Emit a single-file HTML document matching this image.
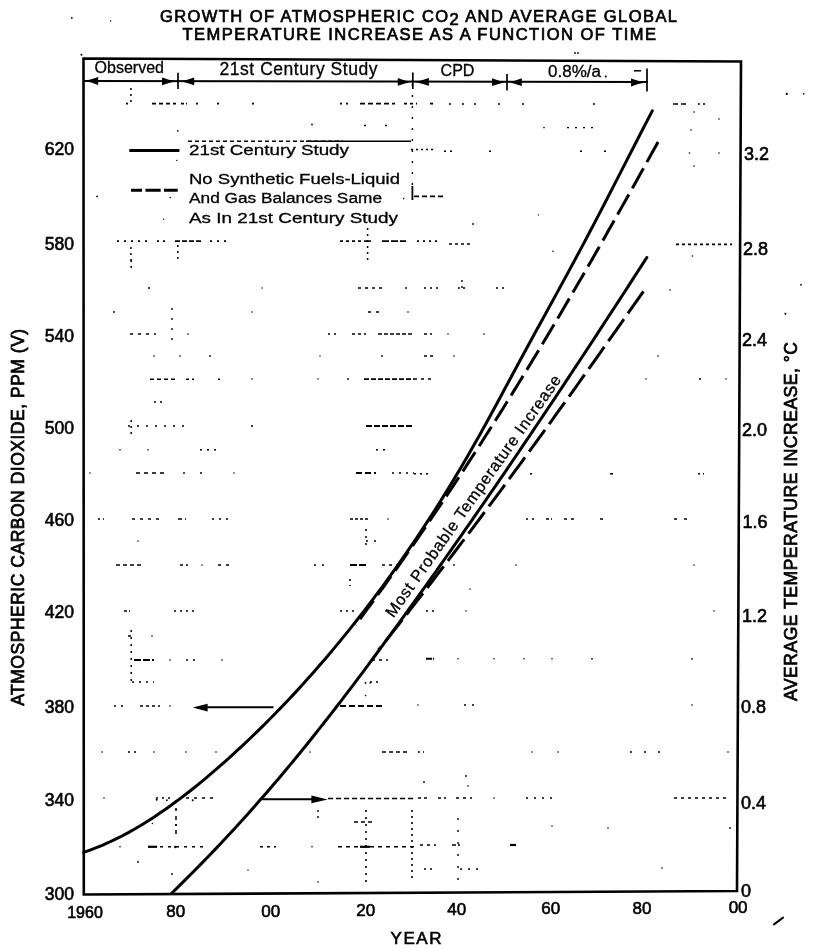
<!DOCTYPE html>
<html><head><meta charset="utf-8"><style>
html,body{margin:0;padding:0;background:#fff;width:825px;height:949px;overflow:hidden}
svg{display:block;filter:grayscale(1)}
text{fill:#000;stroke:#000;stroke-width:0.6px}
text.hv{stroke-width:0.7px}
text.lt{stroke-width:0.3px}
</style></head><body>
<svg width="825" height="949" viewBox="0 0 825 949">
<path d="M126.0,103.6 L131.0,103.6 M196.0,103.6 L200.0,103.6 M217.0,103.6 L219.0,103.6 M252.0,103.6 L254.0,103.6 M449.0,104.0 L451.0,104.0 M462.0,104.0 L464.0,104.0 M474.0,104.0 L476.0,104.0 M498.0,104.0 L500.0,104.0 M522.0,104.0 L524.0,104.0 M593.0,104.0 L595.0,104.0 M698.0,104.0 L706.0,104.0" stroke="#000" stroke-width="1.6" stroke-dasharray="2 3" fill="none"/>
<path d="M152.0,103.6 L176.0,103.6 M150.0,379.2 L176.0,379.2 M178.0,519.0 L186.0,519.0 M116.0,565.0 L144.0,565.0 M382.0,752.0 L410.0,752.0 M354.0,822.0 L372.0,822.0" stroke="#000" stroke-width="1.6" stroke-dasharray="4 3" fill="none"/>
<path d="M181.0,103.6 L187.0,103.6 M610.0,473.8 L614.0,473.8 M350.0,519.0 L368.0,519.0" stroke="#000" stroke-width="1.6" stroke-dasharray="3 2" fill="none"/>
<path d="M340.0,103.6 L349.0,103.6 M157.0,241.1 L167.0,241.1 M417.0,241.1 L439.0,241.1 M156.0,798.0 L170.0,798.0 M350.0,579.0 L350.0,586.0 M412.0,810.0 L412.0,882.0" stroke="#000" stroke-width="1.6" stroke-dasharray="2 4" fill="none"/>
<path d="M360.0,103.6 L395.0,103.6 M673.0,104.0 L688.0,104.0 M414.0,196.4 L444.0,196.4" stroke="#000" stroke-width="1.6" stroke-dasharray="5 3" fill="none"/>
<path d="M404.0,103.6 L417.0,103.6 M430.0,103.6 L436.0,103.6 M340.0,241.1 L364.0,241.1 M449.0,244.0 L473.0,244.0 M676.0,244.4 L732.0,244.4 M140.0,706.0 L160.0,706.0" stroke="#000" stroke-width="1.6" stroke-dasharray="3 3" fill="none"/>
<path d="M364.0,125.5 L369.0,125.5 M385.0,125.5 L389.0,125.5 M411.0,149.5 L434.0,149.5 M489.0,151.3 L491.0,151.3 M580.0,151.3 L582.0,151.3 M604.0,151.3 L606.0,151.3" stroke="#000" stroke-width="1.4" stroke-dasharray="2 3" fill="none"/>
<path d="M567.0,127.6 L597.0,127.6 M464.0,705.0 L476.0,705.0" stroke="#000" stroke-width="1.4" stroke-dasharray="2 6" fill="none"/>
<path d="M188.0,141.2 L343.0,141.2" stroke="#000" stroke-width="1.5" stroke-dasharray="4 3" fill="none"/>
<path d="M444.0,151.3 L452.0,151.3 M154.0,402.0 L164.0,402.0 M462.0,280.0 L462.0,292.0 M318.0,810.0 L318.0,818.0" stroke="#000" stroke-width="1.4" stroke-dasharray="2 4" fill="none"/>
<path d="M117.0,241.1 L148.0,241.1 M210.0,241.1 L226.0,241.1 M366.0,810.0 L366.0,882.0" stroke="#000" stroke-width="1.6" stroke-dasharray="2 5" fill="none"/>
<path d="M175.0,241.1 L202.0,241.1" stroke="#000" stroke-width="1.8" stroke-dasharray="5 2" fill="none"/>
<path d="M364.0,241.1 L371.0,241.1" stroke="#000" stroke-width="1.6" stroke-dasharray="7 1" fill="none"/>
<path d="M382.0,241.1 L406.0,241.1 M350.0,565.0 L366.0,565.0 M134.0,660.0 L154.0,660.0" stroke="#000" stroke-width="1.8" stroke-dasharray="7 2" fill="none"/>
<path d="M148.0,288.0 L154.0,288.0 M424.0,288.0 L440.0,288.0 M496.0,288.0 L504.0,288.0 M328.0,334.0 L336.0,334.0 M414.0,473.8 L430.0,473.8 M526.0,519.0 L534.0,519.0 M174.0,611.0 L194.0,611.0 M340.0,611.0 L356.0,611.0 M426.0,611.0 L438.0,611.0 M370.0,682.0 L382.0,682.0 M128.0,752.0 L138.0,752.0 M424.0,869.0 L436.0,869.0 M130.9,88.0 L130.9,106.0 M130.9,247.0 L130.9,264.0 M177.8,245.0 L177.8,261.0 M367.6,228.0 L367.6,264.0 M131.2,260.0 L131.2,268.0 M131.2,420.0 L131.2,436.0 M176.0,818.0 L176.0,834.0" stroke="#000" stroke-width="1.5" stroke-dasharray="2 4" fill="none"/>
<path d="M358.0,288.0 L382.0,288.0 M564.0,519.0 L578.0,519.0 M372.0,660.0 L388.0,660.0 M456.0,798.0 L472.0,798.0 M260.0,846.8 L276.0,846.8" stroke="#000" stroke-width="1.6" stroke-dasharray="3 4" fill="none"/>
<path d="M458.0,288.0 L466.0,288.0 M698.0,473.8 L704.0,473.8 M98.0,519.0 L104.0,519.0 M418.0,752.0 L424.0,752.0" stroke="#000" stroke-width="1.5" stroke-dasharray="2 3" fill="none"/>
<path d="M368.0,312.0 L384.0,312.0 M218.0,565.0 L234.0,565.0" stroke="#000" stroke-width="1.5" stroke-dasharray="3 5" fill="none"/>
<path d="M130.0,334.0 L156.0,334.0 M132.0,519.0 L164.0,519.0 M186.0,798.0 L214.0,798.0 M160.0,846.8 L204.0,846.8" stroke="#000" stroke-width="1.6" stroke-dasharray="3 5" fill="none"/>
<path d="M352.0,334.0 L366.0,334.0 M424.0,334.0 L432.0,334.0 M424.0,356.0 L434.0,356.0 M186.0,379.2 L194.0,379.2 M180.0,565.0 L188.0,565.0 M128.0,636.0 L134.0,636.0 M418.0,798.0 L430.0,798.0 M438.0,798.0 L446.0,798.0" stroke="#000" stroke-width="1.5" stroke-dasharray="3 3" fill="none"/>
<path d="M378.0,334.0 L414.0,334.0 M452.0,845.0 L460.0,845.0" stroke="#000" stroke-width="1.7" stroke-dasharray="4 2" fill="none"/>
<path d="M218.0,379.2 L222.0,379.2 M200.0,473.0 L204.0,473.0 M530.0,473.8 L534.0,473.8" stroke="#000" stroke-width="1.5" stroke-dasharray="2 2" fill="none"/>
<path d="M364.0,379.2 L414.0,379.2" stroke="#000" stroke-width="1.7" stroke-dasharray="5 2" fill="none"/>
<path d="M414.0,379.0 L434.0,379.0 M382.0,565.0 L400.0,565.0 M674.0,798.0 L730.0,798.0 M420.0,845.0 L436.0,845.0" stroke="#000" stroke-width="1.5" stroke-dasharray="3 4" fill="none"/>
<path d="M128.0,426.0 L184.0,426.0" stroke="#000" stroke-width="1.5" stroke-dasharray="2 7" fill="none"/>
<path d="M366.0,426.0 L414.0,426.0" stroke="#000" stroke-width="1.8" stroke-dasharray="6 2" fill="none"/>
<path d="M200.0,449.8 L216.0,449.8 M376.0,449.8 L388.0,449.8 M392.0,473.0 L414.0,473.0 M212.0,519.0 L228.0,519.0 M186.0,660.0 L200.0,660.0 M132.0,682.0 L154.0,682.0 M114.0,706.0 L124.0,706.0 M366.0,529.0 L366.0,549.0 M131.2,630.0 L131.2,686.0" stroke="#000" stroke-width="1.5" stroke-dasharray="2 5" fill="none"/>
<path d="M136.0,473.0 L168.0,473.0 M338.0,846.8 L414.0,846.8" stroke="#000" stroke-width="1.6" stroke-dasharray="4 4" fill="none"/>
<path d="M356.0,473.0 L376.0,473.0 M340.0,706.0 L384.0,706.0" stroke="#000" stroke-width="1.8" stroke-dasharray="6 3" fill="none"/>
<path d="M546.0,519.0 L552.0,519.0 M600.0,519.0 L604.0,519.0 M124.0,611.0 L130.0,611.0" stroke="#000" stroke-width="1.5" stroke-dasharray="3 2" fill="none"/>
<path d="M674.0,519.0 L694.0,519.0" stroke="#000" stroke-width="1.5" stroke-dasharray="3 7" fill="none"/>
<path d="M366.0,541.0 L380.0,541.0 M314.0,565.0 L324.0,565.0 M526.0,798.0 L558.0,798.0 M460.0,869.0 L480.0,869.0 M176.0,800.0 L176.0,834.0" stroke="#000" stroke-width="1.5" stroke-dasharray="2 6" fill="none"/>
<path d="M426.0,658.8 L434.0,658.8" stroke="#000" stroke-width="2.0" stroke-dasharray="6 1" fill="none"/>
<path d="M630.0,752.0 L672.0,752.0" stroke="#000" stroke-width="1.4" stroke-dasharray="2 12" fill="none"/>
<path d="M328.0,798.5 L414.0,798.5" stroke="#000" stroke-width="1.7" stroke-dasharray="5 3" fill="none"/>
<path d="M148.0,846.8 L157.0,846.8" stroke="#000" stroke-width="2.2" stroke-dasharray="9 1" fill="none"/>
<path d="M360.0,846.8 L370.0,846.8" stroke="#000" stroke-width="2.2" stroke-dasharray="10 1" fill="none"/>
<path d="M510.0,845.0 L516.0,845.0" stroke="#000" stroke-width="2.2" stroke-dasharray="6 1" fill="none"/>
<path d="M412.4,84.0 L412.4,186.0" stroke="#000" stroke-width="1.4" stroke-dasharray="2 9" fill="none"/>
<path d="M412.4,186.0 L412.4,200.0" stroke="#000" stroke-width="1.8" stroke-dasharray="14 1" fill="none"/>
<path d="M172.0,308.0 L172.0,340.0" stroke="#000" stroke-width="1.4" stroke-dasharray="2 8" fill="none"/>
<path d="M458.0,818.0 L458.0,884.0" stroke="#000" stroke-width="1.4" stroke-dasharray="2 10" fill="none"/>
<g fill="#000"><circle cx="71.8" cy="17.9" r="0.9"/><circle cx="110.6" cy="21.0" r="0.8"/><circle cx="81.5" cy="54.7" r="1.0"/><circle cx="575.0" cy="53.0" r="0.9"/><circle cx="578.0" cy="53.0" r="0.9"/><circle cx="177.8" cy="130.9" r="0.8"/><circle cx="176.7" cy="160.4" r="0.7"/><circle cx="97.1" cy="196.4" r="0.9"/><circle cx="170.2" cy="197.5" r="0.8"/><circle cx="163.6" cy="219.3" r="0.7"/><circle cx="312.0" cy="124.4" r="0.9"/><circle cx="403.6" cy="198.6" r="0.8"/><circle cx="473.0" cy="224.0" r="0.9"/><circle cx="538.5" cy="214.9" r="0.7"/><circle cx="553.0" cy="251.3" r="0.8"/><circle cx="544.0" cy="127.6" r="0.8"/><circle cx="786.8" cy="93.9" r="1.1"/><circle cx="803.7" cy="93.9" r="0.8"/><circle cx="801.0" cy="284.8" r="0.9"/><circle cx="785.4" cy="313.7" r="1.0"/><circle cx="694.0" cy="112.0" r="0.8"/><circle cx="691.0" cy="130.0" r="0.8"/><circle cx="719.0" cy="119.0" r="0.8"/><circle cx="689.5" cy="153.0" r="0.8"/><circle cx="719.0" cy="153.0" r="0.8"/><circle cx="694.0" cy="166.0" r="0.8"/><circle cx="692.4" cy="256.0" r="0.8"/><circle cx="670.0" cy="290.0" r="0.8"/><circle cx="114.0" cy="312.0" r="0.9"/><circle cx="252.0" cy="312.0" r="0.8"/><circle cx="262.0" cy="288.0" r="0.7"/><circle cx="406.0" cy="288.0" r="0.9"/><circle cx="408.0" cy="312.0" r="0.8"/><circle cx="188.0" cy="334.0" r="0.8"/><circle cx="448.0" cy="334.0" r="0.8"/><circle cx="484.0" cy="334.0" r="0.8"/><circle cx="154.0" cy="356.0" r="0.8"/><circle cx="180.0" cy="356.0" r="0.8"/><circle cx="210.0" cy="356.0" r="0.9"/><circle cx="320.0" cy="356.0" r="0.7"/><circle cx="382.0" cy="356.0" r="0.9"/><circle cx="454.0" cy="356.0" r="0.8"/><circle cx="658.0" cy="356.0" r="0.8"/><circle cx="252.0" cy="379.0" r="0.8"/><circle cx="318.0" cy="379.0" r="0.8"/><circle cx="348.0" cy="379.0" r="0.9"/><circle cx="646.0" cy="379.0" r="0.8"/><circle cx="700.0" cy="379.0" r="1.0"/><circle cx="726.0" cy="379.0" r="0.8"/><circle cx="252.0" cy="426.0" r="1.0"/><circle cx="120.0" cy="449.8" r="0.8"/><circle cx="148.0" cy="449.8" r="0.8"/><circle cx="90.0" cy="473.0" r="0.8"/><circle cx="184.0" cy="473.0" r="0.9"/><circle cx="234.0" cy="473.0" r="0.8"/><circle cx="388.0" cy="519.0" r="0.8"/><circle cx="138.0" cy="541.0" r="0.8"/><circle cx="202.0" cy="565.0" r="0.8"/><circle cx="454.0" cy="565.0" r="0.9"/><circle cx="516.0" cy="565.0" r="0.8"/><circle cx="694.0" cy="565.0" r="0.8"/><circle cx="466.0" cy="611.0" r="0.8"/><circle cx="714.0" cy="611.0" r="0.8"/><circle cx="470.0" cy="589.0" r="0.8"/><circle cx="152.0" cy="636.0" r="0.8"/><circle cx="170.0" cy="660.0" r="0.8"/><circle cx="222.0" cy="660.0" r="0.8"/><circle cx="458.0" cy="658.8" r="0.8"/><circle cx="494.0" cy="658.8" r="0.8"/><circle cx="524.0" cy="658.8" r="0.8"/><circle cx="552.0" cy="658.8" r="0.8"/><circle cx="592.0" cy="658.8" r="0.9"/><circle cx="692.0" cy="658.8" r="0.9"/><circle cx="170.0" cy="706.0" r="0.8"/><circle cx="418.0" cy="705.0" r="0.8"/><circle cx="692.0" cy="705.0" r="0.8"/><circle cx="365.5" cy="682.9" r="0.9"/><circle cx="370.2" cy="682.9" r="0.8"/><circle cx="365.5" cy="695.6" r="0.8"/><circle cx="102.0" cy="752.0" r="0.8"/><circle cx="154.0" cy="752.0" r="0.8"/><circle cx="186.0" cy="752.0" r="0.8"/><circle cx="216.0" cy="752.0" r="0.8"/><circle cx="310.0" cy="752.0" r="0.8"/><circle cx="532.0" cy="752.0" r="0.8"/><circle cx="558.0" cy="752.0" r="0.8"/><circle cx="728.0" cy="752.0" r="0.8"/><circle cx="104.0" cy="798.0" r="0.8"/><circle cx="494.0" cy="798.0" r="0.8"/><circle cx="424.0" cy="782.0" r="0.9"/><circle cx="466.0" cy="776.0" r="0.9"/><circle cx="468.0" cy="786.0" r="0.8"/><circle cx="120.0" cy="846.8" r="0.8"/><circle cx="312.0" cy="846.8" r="0.8"/><circle cx="138.0" cy="862.0" r="0.9"/><circle cx="172.0" cy="874.0" r="0.9"/><circle cx="248.0" cy="870.0" r="0.7"/><circle cx="318.0" cy="882.0" r="0.8"/><circle cx="552.0" cy="826.0" r="0.8"/><circle cx="608.0" cy="828.0" r="0.8"/><circle cx="730.0" cy="828.0" r="0.9"/><circle cx="662.0" cy="868.0" r="0.8"/><circle cx="156.7" cy="799.8" r="1.0"/><circle cx="166.9" cy="800.2" r="0.9"/><circle cx="192.7" cy="800.2" r="1.0"/><circle cx="176.0" cy="810.0" r="0.9"/><circle cx="152.4" cy="823.5" r="0.8"/><circle cx="175.3" cy="847.0" r="1.3"/><circle cx="15.0" cy="525.0" r="0.9"/><circle cx="18.0" cy="525.0" r="0.9"/></g>
<path d="M774,924.4 L783,917.6" stroke="#000" stroke-width="2" stroke-linecap="round"/>
<path d="M83.5,58.5 L741,61.5 L737,891 L83.8,894.5 Z" fill="none" stroke="#000" stroke-width="2.6" stroke-linejoin="miter"/>
<path d="M84,81 L648,82" stroke="#000" stroke-width="1.9" fill="none"/>
<path d="M178.0,72.8 L178.0,89.0" stroke="#000" stroke-width="1.7"/>
<path d="M412.8,72.5 L412.8,89.0" stroke="#000" stroke-width="1.7"/>
<path d="M507.0,74.0 L507.0,90.4" stroke="#000" stroke-width="1.7"/>
<path d="M647.0,68.5 L647.0,91.5" stroke="#000" stroke-width="1.7"/>
<path d="M84.5,81.0 Q91.3,79.7 98.2,77.1 L98.2,84.9 Q91.3,82.3 84.5,81.0 Z" fill="#000"/>
<path d="M176.0,81.3 Q169.0,80.0 162.0,77.4 L162.0,85.2 Q169.0,82.6 176.0,81.3 Z" fill="#000"/>
<path d="M180.3,81.3 Q187.2,80.0 194.2,77.4 L194.2,85.2 Q187.2,82.6 180.3,81.3 Z" fill="#000"/>
<path d="M410.5,81.9 Q404.1,80.6 397.8,78.0 L397.8,85.8 Q404.1,83.2 410.5,81.9 Z" fill="#000"/>
<path d="M415.0,81.9 Q421.9,80.6 428.9,78.0 L428.9,85.8 Q421.9,83.2 415.0,81.9 Z" fill="#000"/>
<path d="M505.0,82.2 Q498.5,80.9 492.0,78.3 L492.0,86.1 Q498.5,83.5 505.0,82.2 Z" fill="#000"/>
<path d="M509.0,82.2 Q515.4,80.9 521.8,78.3 L521.8,86.1 Q515.4,83.5 509.0,82.2 Z" fill="#000"/>
<path d="M645.5,82.5 Q638.2,81.2 631.0,78.6 L631.0,86.4 Q638.2,83.8 645.5,82.5 Z" fill="#000"/>
<path d="M634,70.8 L641,70.8" stroke="#000" stroke-width="1.5"/>
<path d="M83.60,852.33 L89.99,850.12 L96.38,847.70 L102.77,845.07 L109.16,842.24 L115.55,839.21 L121.94,835.98 L128.33,832.57 L134.72,828.97 L141.11,825.20 L147.50,821.25 L153.89,817.14 L160.28,812.86 L166.67,808.42 L173.06,803.83 L179.45,799.10 L185.84,794.22 L192.23,789.21 L198.62,784.06 L205.01,778.79 L211.40,773.40 L217.79,767.89 L224.18,762.27 L230.57,756.54 L236.96,750.71 L243.35,744.78 L249.74,738.74 L256.13,732.59 L262.52,726.34 L268.91,719.97 L275.30,713.49 L281.69,706.90 L288.08,700.19 L294.47,693.36 L300.86,686.42 L307.25,679.35 L313.64,672.16 L320.03,664.85 L326.42,657.41 L332.81,649.85 L339.20,642.15 L345.59,634.33 L351.98,626.37 L358.37,618.28 L364.76,610.05 L371.14,601.68 L377.53,593.18 L383.92,584.53 L390.31,575.74 L396.70,566.80 L403.09,557.70 L409.48,548.44 L415.87,539.02 L422.26,529.43 L428.65,519.67 L435.04,509.73 L441.43,499.61 L447.82,489.30 L454.21,478.81 L460.60,468.11 L466.99,457.22 L473.38,446.12 L479.77,434.80 L486.16,423.26 L492.55,411.55 L498.94,399.72 L505.33,387.83 L511.72,375.92 L518.11,364.05 L524.50,352.25 L530.89,340.52 L537.28,328.84 L543.67,317.18 L550.06,305.53 L556.45,293.86 L562.84,282.15 L569.23,270.38 L575.62,258.53 L582.01,246.59 L588.40,234.52 L594.79,222.34 L601.18,210.07 L607.57,197.73 L613.96,185.33 L620.35,172.89 L626.74,160.44 L633.13,147.99 L639.52,135.56 L645.91,123.17 L652.30,110.84" fill="none" stroke="#000" stroke-width="3" stroke-linecap="round"/>
<path d="M658.05,142.00 L655.05,147.43 L652.04,152.85 L649.03,158.28 L646.02,163.71 L643.00,169.13 L639.98,174.56 L636.95,179.99 L633.92,185.42 L630.89,190.84 L627.85,196.27 L624.80,201.70 L621.75,207.12 L618.69,212.55 L615.63,217.98 L612.56,223.40 L609.49,228.83 L606.41,234.26 L603.32,239.69 L600.22,245.11 L597.12,250.54 L594.01,255.97 L590.90,261.39 L587.77,266.82 L584.64,272.25 L581.50,277.67 L578.36,283.10 L575.20,288.53 L572.04,293.96 L568.86,299.38 L565.68,304.81 L562.49,310.24 L559.29,315.66 L556.08,321.09 L552.86,326.52 L549.63,331.94 L546.39,337.37 L543.15,342.80 L539.89,348.22 L536.62,353.65 L533.34,359.08 L530.04,364.51 L526.74,369.93 L523.43,375.36 L520.10,380.79 L516.77,386.21 L513.42,391.64 L510.06,397.07 L506.68,402.49 L503.30,407.92 L499.90,413.35 L496.49,418.78 L493.07,424.20 L489.63,429.63 L486.18,435.06 L482.72,440.48 L479.24,445.91 L475.75,451.34 L472.24,456.76 L468.72,462.19 L465.19,467.62 L461.64,473.04 L458.07,478.47 L454.50,483.90 L450.90,489.33 L447.29,494.75 L443.67,500.18 L440.03,505.61 L436.37,511.03 L432.70,516.46 L429.01,521.89 L425.30,527.31 L421.58,532.74 L417.84,538.17 L414.08,543.60 L410.31,549.02 L406.52,554.45 L402.71,559.88 L398.88,565.30 L395.04,570.73 L391.17,576.16 L387.29,581.58 L383.39,587.01 L379.47,592.44 L375.53,597.87 L371.58,603.29 L367.60,608.72 L363.60,614.15 L359.59,619.57 L355.55,625.00" fill="none" stroke="#000" stroke-width="3" stroke-dasharray="23 7"/>
<path d="M171.65,893.20 L178.98,886.06 L186.21,878.91 L193.35,871.77 L200.39,864.63 L207.33,857.49 L214.19,850.34 L220.96,843.20 L227.65,836.06 L234.25,828.92 L240.77,821.77 L247.21,814.63 L253.58,807.49 L259.87,800.34 L266.09,793.20 L272.24,786.06 L278.33,778.92 L284.35,771.77 L290.30,764.63 L296.20,757.49 L302.04,750.35 L307.82,743.20 L313.55,736.06 L319.23,728.92 L324.86,721.78 L330.44,714.63 L335.98,707.49 L341.48,700.35 L346.93,693.20 L352.35,686.06 L357.74,678.92 L363.09,671.78 L368.41,664.63 L373.71,657.49 L378.97,650.35 L384.22,643.21 L389.44,636.06 L394.64,628.92 L399.83,621.78 L405.00,614.63 L410.15,607.49 L415.29,600.35 L420.41,593.21 L425.52,586.06 L430.60,578.92 L435.68,571.78 L440.74,564.64 L445.78,557.49 L450.81,550.35 L455.82,543.21 L460.82,536.07 L465.81,528.92 L470.78,521.78 L475.74,514.64 L480.68,507.49 L485.61,500.35 L490.53,493.21 L495.43,486.07 L500.32,478.92 L505.20,471.78 L510.07,464.64 L514.93,457.50 L519.77,450.35 L524.60,443.21 L529.42,436.07 L534.23,428.92 L539.03,421.78 L543.81,414.64 L548.59,407.50 L553.36,400.35 L558.11,393.21 L562.86,386.07 L567.59,378.93 L572.32,371.78 L577.04,364.64 L581.75,357.50 L586.44,350.36 L591.14,343.21 L595.82,336.07 L600.49,328.93 L605.16,321.78 L609.82,314.64 L614.47,307.50 L619.11,300.36 L623.75,293.21 L628.37,286.07 L633.00,278.93 L637.61,271.79 L642.22,264.64 L646.82,257.50" fill="none" stroke="#000" stroke-width="3" stroke-linecap="round"/>
<path d="M643.46,291.30 L640.64,295.33 L637.81,299.36 L634.99,303.39 L632.16,307.42 L629.33,311.45 L626.49,315.48 L623.66,319.51 L620.82,323.54 L617.98,327.57 L615.14,331.60 L612.30,335.63 L609.45,339.66 L606.60,343.69 L603.75,347.72 L600.90,351.76 L598.04,355.79 L595.18,359.82 L592.32,363.85 L589.46,367.88 L586.59,371.91 L583.72,375.94 L580.85,379.97 L577.97,384.00 L575.09,388.03 L572.21,392.06 L569.32,396.09 L566.43,400.12 L563.54,404.15 L560.64,408.18 L557.74,412.21 L554.84,416.24 L551.93,420.27 L549.02,424.30 L546.11,428.33 L543.19,432.36 L540.27,436.39 L537.35,440.42 L534.42,444.45 L531.48,448.48 L528.55,452.51 L525.61,456.54 L522.66,460.57 L519.71,464.60 L516.76,468.63 L513.80,472.67 L510.84,476.70 L507.87,480.73 L504.90,484.76 L501.92,488.79 L498.94,492.82 L495.96,496.85 L492.97,500.88 L489.97,504.91 L486.97,508.94 L483.97,512.97 L480.96,517.00 L477.95,521.03 L474.93,525.06 L471.90,529.09 L468.87,533.12 L465.84,537.15 L462.80,541.18 L459.75,545.21 L456.70,549.24 L453.64,553.27 L450.58,557.30 L447.51,561.33 L444.44,565.36 L441.36,569.39 L438.28,573.42 L435.18,577.45 L432.09,581.48 L428.99,585.51 L425.88,589.54 L422.76,593.58 L419.64,597.61 L416.51,601.64 L413.38,605.67 L410.24,609.70 L407.10,613.73 L403.94,617.76 L400.78,621.79 L397.62,625.82 L394.45,629.85 L391.27,633.88 L388.08,637.91 L384.89,641.94 L381.69,645.97 L378.49,650.00" fill="none" stroke="#000" stroke-width="3" stroke-dasharray="27 7"/>
<path d="M206,707.3 L273.5,707.3" stroke="#000" stroke-width="2"/>
<path d="M192.7,707.5 L207.6,703.8 L207.6,711.4 Z" fill="#000"/>
<path d="M262.3,799.2 L312,799.2" stroke="#000" stroke-width="2"/>
<path d="M327.7,799.4 L311.4,795.6 L311.4,803.2 Z" fill="#000"/>
<path d="M129.3,150.4 L179.4,150.4" stroke="#000" stroke-width="3"/>
<path d="M131,190.2 L142,190.2 M145.5,190.2 L160.7,190.2 M164,190.2 L177.7,190.2" stroke="#000" stroke-width="3"/>
<path d="M306,141.3 L411,141.3" stroke="#000" stroke-width="1.5"/>
<text x="160.0" y="22.2" font-family="Liberation Sans, sans-serif" font-size="16.5" text-anchor="start" textLength="517.0" lengthAdjust="spacing" class="hv">GROWTH OF ATMOSPHERIC CO<tspan dy="2.5">2</tspan><tspan dy="-2.5"> AND AVERAGE GLOBAL</tspan></text>
<text x="182.5" y="40.0" font-family="Liberation Sans, sans-serif" font-size="16.5" text-anchor="start" textLength="473.5" lengthAdjust="spacing" class="hv">TEMPERATURE INCREASE AS A FUNCTION OF TIME</text>
<text x="94.5" y="73.0" font-family="Liberation Sans, sans-serif" font-size="17.0" text-anchor="start" textLength="69.5" lengthAdjust="spacingAndGlyphs" class="lt">Observed</text>
<text x="219.5" y="74.6" font-family="Liberation Sans, sans-serif" font-size="17.5" text-anchor="start" textLength="158.0" lengthAdjust="spacing" class="lt">21st Century Study</text>
<text x="440.5" y="76.3" font-family="Liberation Sans, sans-serif" font-size="16.5" text-anchor="start" textLength="34.0" lengthAdjust="spacingAndGlyphs" class="lt">CPD</text>
<text x="548.0" y="77.2" font-family="Liberation Sans, sans-serif" font-size="16.5" text-anchor="start" textLength="53.0" lengthAdjust="spacingAndGlyphs" class="lt">0.8%/a</text>
<circle cx="605.8" cy="76.5" r="1"/>
<text x="189.0" y="154.9" font-family="Liberation Sans, sans-serif" font-size="15.5" text-anchor="start" textLength="160.0" lengthAdjust="spacingAndGlyphs" class="lt">21st Century Study</text>
<text x="189.0" y="183.7" font-family="Liberation Sans, sans-serif" font-size="15.5" text-anchor="start" textLength="211.0" lengthAdjust="spacingAndGlyphs" class="lt">No Synthetic Fuels-Liquid</text>
<text x="189.0" y="203.4" font-family="Liberation Sans, sans-serif" font-size="15.5" text-anchor="start" textLength="193.0" lengthAdjust="spacingAndGlyphs" class="lt">And Gas Balances Same</text>
<text x="189.0" y="223.2" font-family="Liberation Sans, sans-serif" font-size="15.5" text-anchor="start" textLength="209.0" lengthAdjust="spacingAndGlyphs" class="lt">As In 21st Century Study</text>
<text x="74.0" y="155.3" font-family="Liberation Sans, sans-serif" font-size="17.6" text-anchor="end" >620</text>
<text x="74.0" y="250.0" font-family="Liberation Sans, sans-serif" font-size="17.6" text-anchor="end" >580</text>
<text x="74.0" y="341.8" font-family="Liberation Sans, sans-serif" font-size="17.6" text-anchor="end" >540</text>
<text x="74.0" y="433.8" font-family="Liberation Sans, sans-serif" font-size="17.6" text-anchor="end" >500</text>
<text x="74.0" y="525.8" font-family="Liberation Sans, sans-serif" font-size="17.6" text-anchor="end" >460</text>
<text x="74.0" y="617.9" font-family="Liberation Sans, sans-serif" font-size="17.6" text-anchor="end" >420</text>
<text x="74.0" y="712.7" font-family="Liberation Sans, sans-serif" font-size="17.6" text-anchor="end" >380</text>
<text x="74.0" y="806.0" font-family="Liberation Sans, sans-serif" font-size="17.6" text-anchor="end" >340</text>
<text x="74.0" y="899.9" font-family="Liberation Sans, sans-serif" font-size="17.6" text-anchor="end" >300</text>
<text x="744.0" y="160.3" font-family="Liberation Sans, sans-serif" font-size="18.0" text-anchor="start" >3.2</text>
<text x="743.0" y="255.3" font-family="Liberation Sans, sans-serif" font-size="18.0" text-anchor="start" >2.8</text>
<text x="742.0" y="346.3" font-family="Liberation Sans, sans-serif" font-size="18.0" text-anchor="start" >2.4</text>
<text x="742.0" y="436.1" font-family="Liberation Sans, sans-serif" font-size="18.0" text-anchor="start" >2.0</text>
<text x="742.5" y="528.3" font-family="Liberation Sans, sans-serif" font-size="18.0" text-anchor="start" >1.6</text>
<text x="742.0" y="621.8" font-family="Liberation Sans, sans-serif" font-size="18.0" text-anchor="start" >1.2</text>
<text x="741.0" y="712.7" font-family="Liberation Sans, sans-serif" font-size="18.0" text-anchor="start" >0.8</text>
<text x="741.0" y="809.3" font-family="Liberation Sans, sans-serif" font-size="18.0" text-anchor="start" >0.4</text>
<text x="741.0" y="896.8" font-family="Liberation Sans, sans-serif" font-size="18.0" text-anchor="start" >0</text>
<text x="85.0" y="917.5" font-family="Liberation Sans, sans-serif" font-size="16.0" text-anchor="middle" >1960</text>
<text x="175.8" y="917.0" font-family="Liberation Sans, sans-serif" font-size="17.0" text-anchor="middle" >80</text>
<text x="270.7" y="916.5" font-family="Liberation Sans, sans-serif" font-size="17.0" text-anchor="middle" >00</text>
<text x="365.8" y="915.5" font-family="Liberation Sans, sans-serif" font-size="17.0" text-anchor="middle" >20</text>
<text x="456.8" y="914.8" font-family="Liberation Sans, sans-serif" font-size="17.0" text-anchor="middle" >40</text>
<text x="550.8" y="914.3" font-family="Liberation Sans, sans-serif" font-size="17.0" text-anchor="middle" >60</text>
<text x="642.0" y="913.7" font-family="Liberation Sans, sans-serif" font-size="17.0" text-anchor="middle" >80</text>
<text x="738.1" y="913.3" font-family="Liberation Sans, sans-serif" font-size="17.0" text-anchor="middle" >00</text>
<text x="390.5" y="943.5" font-family="Liberation Sans, sans-serif" font-size="17.0" text-anchor="start" textLength="51.0" lengthAdjust="spacing">YEAR</text>
<g transform="translate(23.5,705.8) rotate(-90)"><text x="0.0" y="0.0" font-family="Liberation Sans, sans-serif" font-size="17.5" text-anchor="start" textLength="377.0" lengthAdjust="spacing" class="hv">ATMOSPHERIC CARBON DIOXIDE, PPM (V)</text></g>
<g transform="translate(796.5,701) rotate(-90)"><text x="0.0" y="0.0" font-family="Liberation Sans, sans-serif" font-size="17.5" text-anchor="start" textLength="359.0" lengthAdjust="spacing" class="hv">AVERAGE TEMPERATURE INCREASE, °C</text></g>
<g transform="translate(393.5,618.5) rotate(-54.8)"><text x="0.0" y="0.0" font-family="Liberation Sans, sans-serif" font-size="16.2" text-anchor="start" textLength="292.0" lengthAdjust="spacing" class="lt">Most Probable Temperature Increase</text></g>
</svg></body></html>
